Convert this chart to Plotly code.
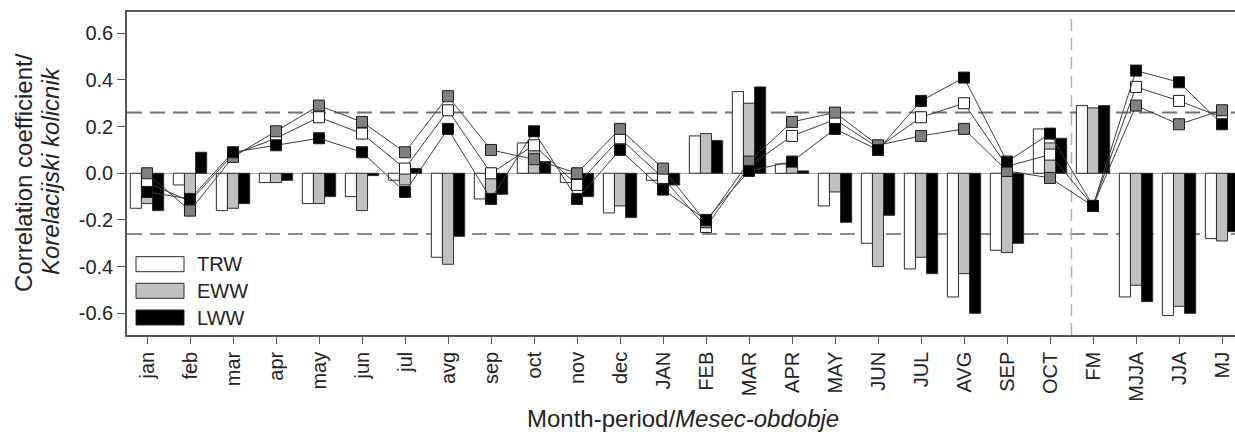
import plotly.graph_objects as go

# ---------------- data ----------------
categories = ["jan", "feb", "mar", "apr", "may", "jun", "jul", "avg", "sep", "oct", "nov", "dec",
              "JAN", "FEB", "MAR", "APR", "MAY", "JUN", "JUL", "AVG", "SEP", "OCT",
              "FM", "MJJA", "JJA", "MJ"]

# bars
trw_bar = [-0.15, -0.05, -0.16, -0.04, -0.13, -0.10, -0.03, -0.36, -0.11, 0.13, -0.04, -0.17,
           -0.03, 0.16, 0.35, 0.04, -0.14, -0.30, -0.41, -0.53, -0.33, 0.19,
           0.29, -0.53, -0.61, -0.28]
eww_bar = [-0.13, -0.18, -0.15, -0.04, -0.13, -0.16, -0.05, -0.39, -0.12, 0.10, -0.03, -0.14,
           0.04, 0.17, 0.30, 0.05, -0.08, -0.40, -0.36, -0.43, -0.34, 0.13,
           0.28, -0.48, -0.57, -0.29]
lww_bar = [-0.16, 0.09, -0.13, -0.03, -0.10, -0.01, 0.02, -0.27, -0.09, 0.05, -0.10, -0.19,
           -0.05, 0.14, 0.37, 0.01, -0.21, -0.18, -0.43, -0.60, -0.30, 0.15,
           0.29, -0.55, -0.60, -0.25]

# lines with square markers
trw_line = [-0.04, -0.12, 0.08, 0.15, 0.24, 0.17, 0.02, 0.27, 0.00, 0.12, -0.05, 0.15,
            -0.02, -0.23, 0.03, 0.16, 0.23, 0.11, 0.24, 0.30, 0.03, 0.08,
            -0.14, 0.37, 0.31, 0.24]
eww_line = [0.00, -0.16, 0.07, 0.18, 0.29, 0.22, 0.09, 0.33, 0.10, 0.06, 0.00, 0.19,
            0.02, -0.21, 0.05, 0.22, 0.26, 0.12, 0.16, 0.19, 0.01, -0.02,
            -0.14, 0.29, 0.21, 0.27]
lww_line = [-0.08, -0.11, 0.09, 0.12, 0.15, 0.09, -0.08, 0.19, -0.11, 0.18, -0.11, 0.10,
            -0.07, -0.20, 0.01, 0.05, 0.19, 0.10, 0.31, 0.41, 0.05, 0.17,
            -0.14, 0.44, 0.39, 0.21]

series_names = ["TRW", "EWW", "LWW"]
y_tick_vals = [0.6, 0.4, 0.2, 0.0, -0.2, -0.4, -0.6]
y_tick_text = ["0.6", "0.4", "0.2", "0.0", "-0.2", "-0.4", "-0.6"]
significance = 0.26
divider_position = 21.5

# ---------------- style ----------------
FONT = "Liberation Sans, Arial, sans-serif"
TXT = "#222222"
bar_fill = ["#ffffff", "#c0c0c0", "#000000"]
marker_fill = ["#ffffff", "#808080", "#000000"]

W, H = 1235, 434
L, R, T, B = 127, 0, 12, 99
pw, ph = W - L - R, H - T - B


def px_x(px):
    return (px - L) / pw


def px_y(py):
    return (H - B - py) / ph


fig = go.Figure()

for name, vals, col in zip(series_names, [trw_bar, eww_bar, lww_bar], bar_fill):
    fig.add_trace(go.Bar(
        x=categories, y=vals, name=name,
        marker=dict(color=col, line=dict(color="#2b2b2b", width=1)),
        showlegend=False,
    ))

for name, vals, col in zip(series_names, [trw_line, eww_line, lww_line], marker_fill):
    fig.add_trace(go.Scatter(
        x=categories, y=vals, mode="lines+markers", name=name,
        line=dict(color="#3c3c3c", width=1),
        marker=dict(symbol="square", size=11, color=col, line=dict(color="#1a1a1a", width=1)),
        showlegend=False,
    ))

shapes = []
for val, colr in [(significance, "#707070"), (-significance, "#8a8a8a")]:
    shapes.append(dict(type="line", xref="paper", yref="y", x0=0, x1=1, y0=val, y1=val,
                       line=dict(color=colr, width=2, dash="15px,8px"), layer="below"))
shapes.append(dict(type="line", xref="x", yref="paper", x0=divider_position, x1=divider_position,
                   y0=0, y1=1, line=dict(color="#b0b0b0", width=1.5, dash="12px,7px"), layer="below"))

# custom legend (wide rectangular swatches)
legend_rows = [(256.7, 271.7), (283.3, 298.3), (310.0, 325.0)]
annotations = []
for (top, bot), name, col in zip(legend_rows, series_names, bar_fill):
    shapes.append(dict(type="rect", xref="paper", yref="paper",
                       x0=px_x(136), x1=px_x(184), y0=px_y(bot), y1=px_y(top),
                       fillcolor=col, line=dict(color="#2b2b2b", width=1)))
    annotations.append(dict(text=name, xref="paper", yref="paper", x=px_x(195),
                            y=px_y((top + bot) / 2), xanchor="left", yanchor="middle",
                            showarrow=False, font=dict(family=FONT, size=20, color=TXT)))

# axis titles
annotations.append(dict(text="Correlation coefficient/", xref="paper", yref="paper",
                        x=px_x(23), y=px_y(173), textangle=-90, xanchor="center", yanchor="middle",
                        showarrow=False, font=dict(family=FONT, size=24, color=TXT)))
annotations.append(dict(text="<i>Korelacijski kolicnik</i>", xref="paper", yref="paper",
                        x=px_x(50), y=px_y(171), textangle=-90, xanchor="center", yanchor="middle",
                        showarrow=False, font=dict(family=FONT, size=24, color=TXT)))
annotations.append(dict(text="Month-period/<i>Mesec-obdobje</i>", xref="paper", yref="paper",
                        x=px_x(683), y=px_y(418.5), xanchor="center", yanchor="middle",
                        showarrow=False, font=dict(family=FONT, size=24, color=TXT)))

fig.update_layout(
    width=W, height=H,
    margin=dict(l=L, r=R, t=T, b=B, pad=0),
    paper_bgcolor="white", plot_bgcolor="white",
    barmode="group", bargap=0.225, bargroupgap=0,
    font=dict(family=FONT, color=TXT),
    shapes=shapes, annotations=annotations,
    showlegend=False,
    xaxis=dict(
        type="category", range=[-0.465, 25.302],
        showline=True, linecolor="#555555", linewidth=1.5, mirror=True,
        ticks="outside", ticklen=7, tickwidth=1.2, tickcolor="#555555",
        tickangle=-90, tickfont=dict(family=FONT, size=20, color=TXT),
        showgrid=False, zeroline=False,
    ),
    yaxis=dict(
        range=[-0.693, 0.691],
        tickvals=y_tick_vals, ticktext=y_tick_text,
        showline=True, linecolor="#555555", linewidth=1.5, mirror=False,
        ticks="outside", ticklen=8, tickwidth=1.2, tickcolor="#555555",
        tickfont=dict(family=FONT, size=20, color=TXT),
        showgrid=False, zeroline=True, zerolinecolor="#a8a8a8", zerolinewidth=1,
    ),
)

page_fix = ("document.documentElement.style.margin='0';document.documentElement.style.padding='0';"
            "document.body.style.margin='0';document.body.style.padding='0';"
            "document.documentElement.style.overflow='hidden';document.body.style.overflow='hidden';")

fig.write_html("out.html", post_script=page_fix, config={"displayModeBar": False})
